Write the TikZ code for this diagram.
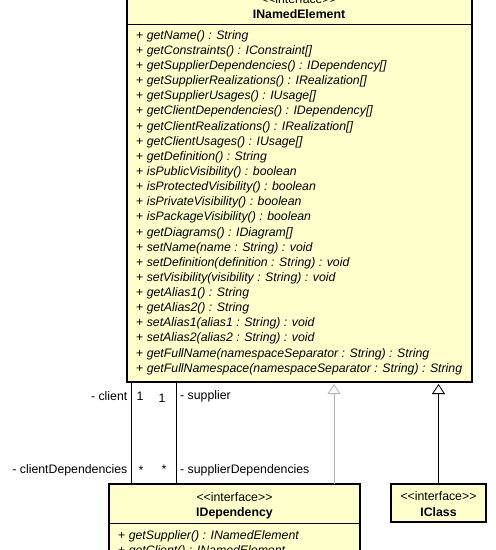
\documentclass[tikz,border=0pt]{standalone}
\usepackage{fontspec}
\setmainfont{Liberation Sans}
\usetikzlibrary{arrows.meta}
\definecolor{umlfill}{HTML}{FFFFCC}
\definecolor{realgray}{HTML}{B4B4B4}
\newcommand{\umlstereo}[1]{<\kern0pt<#1>\kern0pt>}

\begin{document}
\begin{tikzpicture}[x=1pt,y=-1pt,
    classbox/.style={draw, line width=2.2pt, fill=umlfill, anchor=north west, inner sep=0pt, outer sep=0pt},
    txt/.style={inner sep=0pt, font=\fontsize{12.3}{14}\selectfont},
    realize/.style={-{Triangle[open, width=13pt, length=10pt, fill=white]}, line width=0.8pt}]
    \clip (0,0) rectangle (496,550);

    % Classes
    \node[classbox, minimum width=345pt, minimum height=394pt] (ne) at (127,-12) {};
    \node[classbox, minimum width=251pt, minimum height=90pt] (dep) at (109,484) {};
    \node[classbox, minimum width=95pt, minimum height=38pt] (cls) at (391,484) {};

    % INamedElement
    \node[txt] (ne-st) at (299,-1) {\umlstereo{interface}};
    \node[txt, font=\fontsize{12.3}{14}\selectfont\bfseries] (ne-nm) at (299,14) {INamedElement};
    \draw[line width=1pt] (ne.west |- 0,24) -- (ne.east |- 0,24);
    \foreach \m [count=\i from 0] in {getName() : String, getConstraints() : IConstraint[],
        getSupplierDependencies() : IDependency[], getSupplierRealizations() : IRealization[],
        getSupplierUsages() : IUsage[], getClientDependencies() : IDependency[],
        getClientRealizations() : IRealization[], getClientUsages() : IUsage[],
        getDefinition() : String, isPublicVisibility() : boolean,
        isProtectedVisibility() : boolean, isPrivateVisibility() : boolean,
        isPackageVisibility() : boolean, getDiagrams() : IDiagram[],
        setName(name : String) : void, setDefinition(definition : String) : void,
        setVisibility(visibility : String) : void, getAlias1() : String,
        getAlias2() : String, setAlias1(alias1 : String) : void,
        setAlias2(alias2 : String) : void, getFullName(namespaceSeparator : String) : String,
        getFullNamespace(namespaceSeparator : String) : String} {
        \node[txt, anchor=west] (ne-m\i) at (136,36+15.14*\i) {+ \textit{\m}};
    }

    % IDependency
    \node[txt] (dep-st) at (234.5,497) {\umlstereo{interface}};
    \node[txt, font=\fontsize{12.3}{14}\selectfont\bfseries] (dep-nm) at (234.5,513) {IDependency};
    \draw[line width=1pt] (dep.west |- 0,523) -- (dep.east |- 0,523);
    \node[txt, anchor=west] (dep-m0) at (118,536) {+ \textit{getSupplier() : INamedElement}};
    \node[txt, anchor=west] (dep-m1) at (118,551) {+ \textit{getClient() : INamedElement}};

    % IClass
    \node[txt] (cls-st) at (438.5,496) {\umlstereo{interface}};
    \node[txt, font=\fontsize{12.3}{14}\selectfont\bfseries] (cls-nm) at (438.5,512) {IClass};

    % Associations
    \coordinate (clientX) at (131,0);
    \coordinate (supplierX) at (176,0);
    \draw[line width=0.8pt] (ne.south -| clientX) -- (dep.north -| clientX);
    \draw[line width=0.8pt] (ne.south -| supplierX) -- (dep.north -| supplierX);
    \node[txt, anchor=east] (l-client) at (127.5,396) {- client};
    \node[txt] (l-c1) at (140,396) {1};
    \node[txt] (l-s1) at (162,398) {1};
    \node[txt, anchor=west] (l-supplier) at (180,396) {- supplier};
    \node[txt, anchor=east] (l-clientdeps) at (127.5,470) {- clientDependencies};
    \node[txt] (l-cstar) at (141,470) {*};
    \node[txt] (l-sstar) at (164,469) {*};
    \node[txt, anchor=west] (l-supplierdeps) at (180,470) {- supplierDependencies};

    % Realizations
    \coordinate (depX) at (334,0);
    \draw[realize, draw=realgray] (dep.north -| depX) -- ([yshift=-2pt]ne.south -| depX);
    \draw[realize] (cls.north) -- ([yshift=-2pt]ne.south -| cls.north);
\end{tikzpicture}
\end{document}
